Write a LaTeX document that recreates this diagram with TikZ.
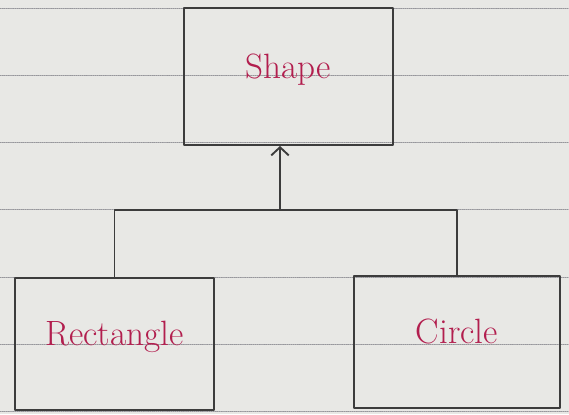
\documentclass[tikz,border=0pt]{standalone}
\usepackage{xcolor}
\usetikzlibrary{calc, positioning}
\usetikzlibrary{arrows.meta}
\definecolor{paper}{RGB}{232,232,229}
\definecolor{ruling}{RGB}{150,150,155}
\definecolor{pen}{RGB}{60,60,60}
\definecolor{ink}{RGB}{178,30,78}

\begin{document}
\begin{tikzpicture}[x=0.03cm, y=-0.03cm, line join=round, line cap=round,
  classbox/.style={draw=pen, line width=1.6pt, font=\fontsize{30}{34}\selectfont, text=ink,
    inner sep=0pt, text height=0.7cm, text depth=0.6cm},
  link/.style={draw=pen, line width=1.6pt}]
\def\rulegap{67.3}

% Ruled paper
\fill[paper] (0,0) rectangle (569,414);
\useasboundingbox (0,0) rectangle (569,414);
\foreach \k in {0,...,6}
  \draw[ruling, densely dotted, line width=0.8pt] (0,8+\k*\rulegap) -- (569,8+\k*\rulegap);

% Class boxes
\node[classbox, minimum width=6.27cm, minimum height=4.11cm] (shape) at (288.5,76.5) {Shape};
\node[classbox, minimum width=5.97cm, minimum height=3.96cm] (rect) at (114.5,344) {Rectangle};
\node[classbox, minimum width=6.18cm, minimum height=3.96cm] (circ) at (457,342) {Circle};

% Inheritance link
\coordinate (join) at (280,210);
\draw[link] (rect.north) |- (join) -| (circ.north);
\draw[link, -{Straight Barb[length=7pt, width=15pt, line width=1.6pt]}] (join) -- (join |- shape.south);
\end{tikzpicture}
\end{document}
